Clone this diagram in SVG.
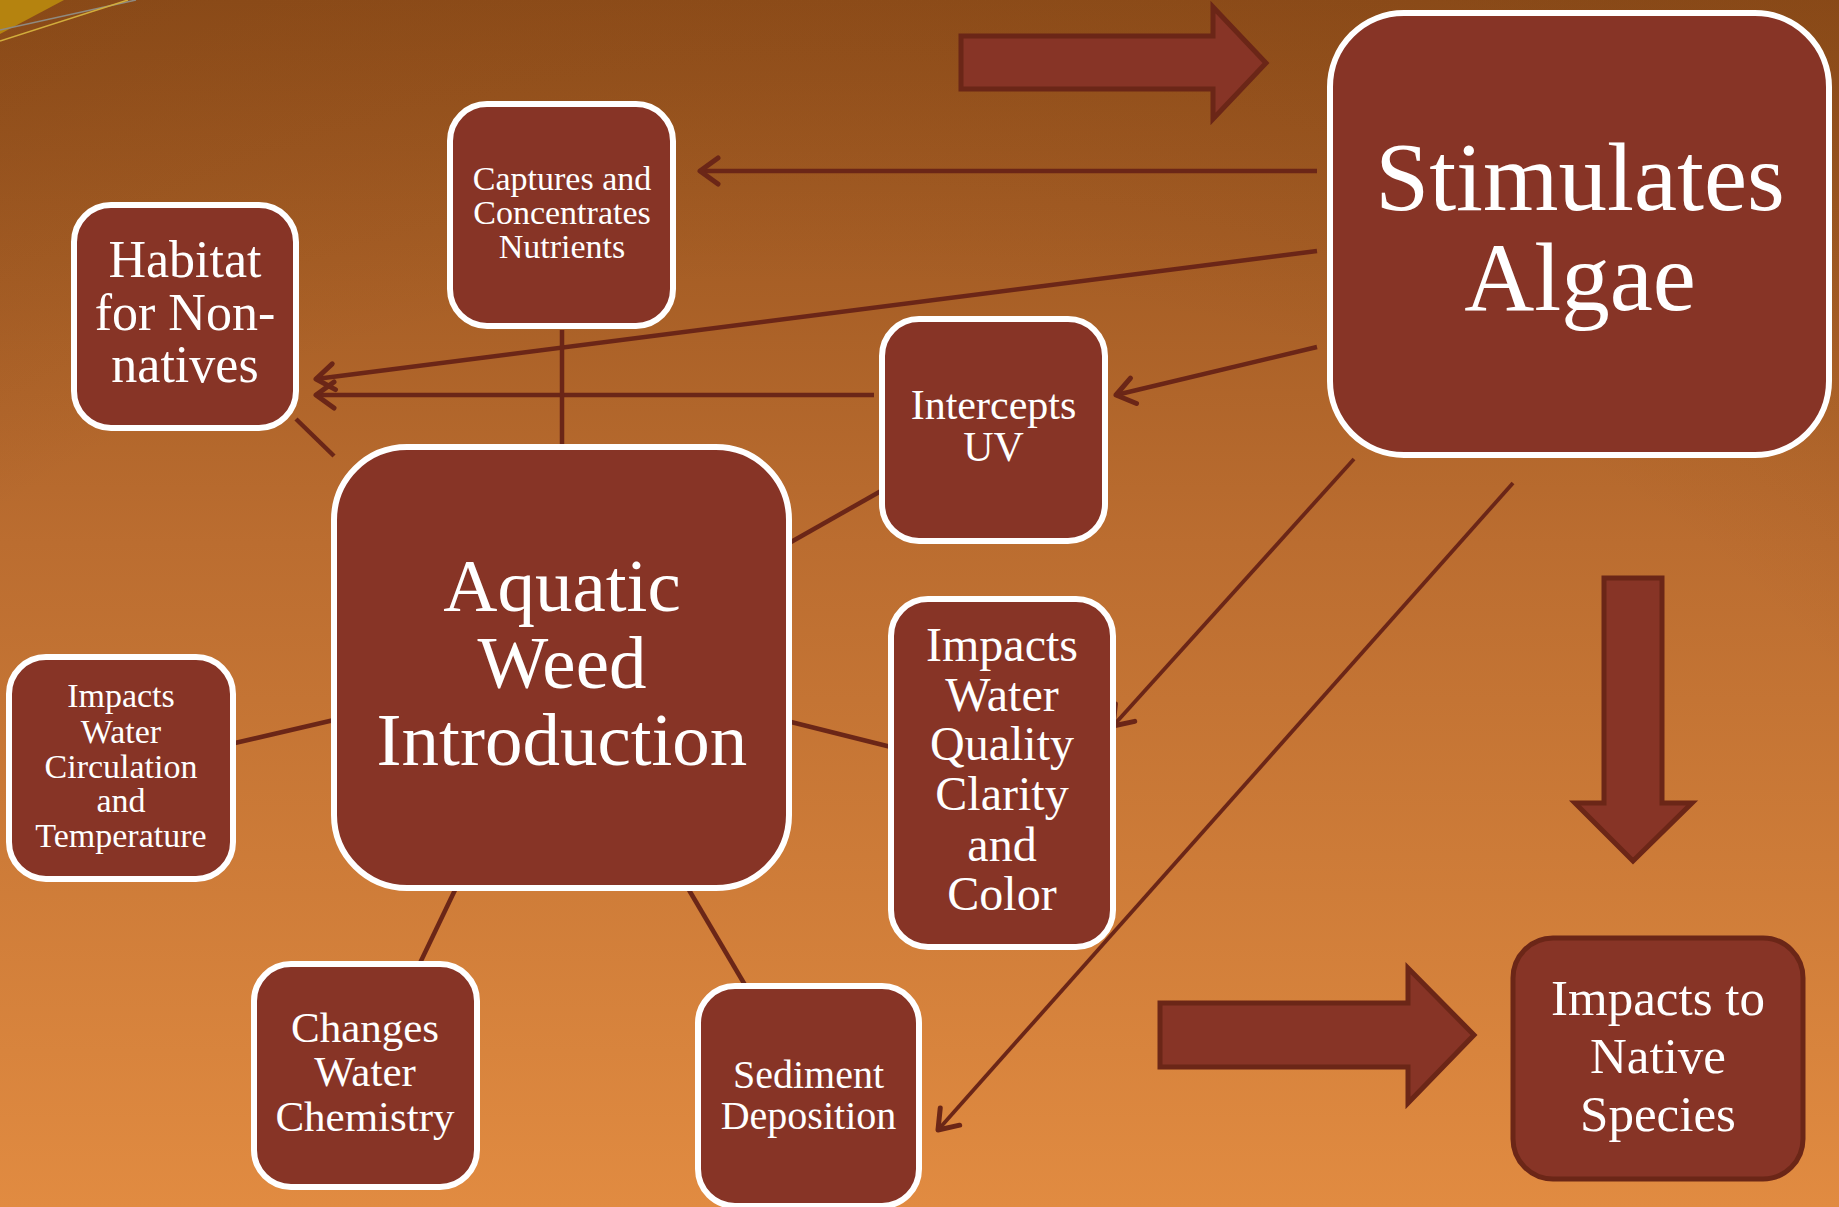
<svg xmlns="http://www.w3.org/2000/svg" width="1839" height="1207" viewBox="0 0 1839 1207">
  <defs>
    <linearGradient id="bg" x1="0" y1="0" x2="0" y2="1">
      <stop offset="0" stop-color="#93501b"/>
      <stop offset="0.45" stop-color="#bb6d30"/>
      <stop offset="1" stop-color="#e18b41"/>
    </linearGradient>
    <radialGradient id="vignette" cx="0.45" cy="0.85" r="0.95">
      <stop offset="0.65" stop-color="#5a2a08" stop-opacity="0"/>
      <stop offset="1" stop-color="#5a2a08" stop-opacity="0.18"/>
    </radialGradient>
    <marker id="head" markerUnits="userSpaceOnUse" markerWidth="40" markerHeight="40" refX="0" refY="0" orient="auto" overflow="visible">
      <path d="M-18,-13 L0,0 L-18,13" fill="none" stroke="#6b2617" stroke-width="5" stroke-linecap="round" stroke-linejoin="round"/>
    </marker>
    <style>
      .node rect { fill: #873426; stroke: #ffffff; stroke-width: 6; }
      .node text { fill: #ffffff; font-family: "Liberation Serif", "DejaVu Serif", serif; text-anchor: middle; }
      #native rect { stroke: #6b2617; stroke-width: 5; }
      .link { stroke: #6b2617; stroke-width: 4.5; fill: none; }
      .thin { stroke-width: 3.8; }
      .block { fill: #873426; stroke: #6b2617; stroke-width: 5; stroke-linejoin: miter; }
    </style>
  </defs>

  <!-- background -->
  <rect width="1839" height="1207" fill="url(#bg)"/>
  <rect width="1839" height="1207" fill="url(#vignette)"/>

  <!-- corner ornament -->
  <g id="ornament">
    <polygon points="0,0 64,0 0,34" fill="#b5830f"/>
    <line x1="0" y1="30" x2="136" y2="0" stroke="#8f8a80" stroke-width="1.5"/>
    <line x1="0" y1="41" x2="128" y2="0" stroke="#d2ad3c" stroke-width="1.5"/>
  </g>

  <!-- block arrows -->
  <g id="block-arrows">
    <polygon class="block" points="961,36 1213,36 1213,7 1266,63 1213,119 1213,89 961,89"/>
    <polygon class="block" points="1604,578 1662,578 1662,803 1692,803 1633,861 1575,803 1604,803"/>
    <polygon class="block" points="1160,1003 1408,1003 1408,968 1474,1035 1408,1103 1408,1067 1160,1067"/>
  </g>

  <!-- connectors -->
  <g id="connectors">
    <path class="link" d="M1317,171 L700,171" marker-end="url(#head)"/>
    <path class="link" d="M1317,251 L316,379" marker-end="url(#head)"/>
    <path class="link" d="M874,395 L316,395" marker-end="url(#head)"/>
    <path class="link" d="M1317,347 L1116,395" marker-end="url(#head)"/>
    <path class="link thin" d="M1354,459 L1113,726" marker-end="url(#head)"/>
    <path class="link thin" d="M1513,483 L938,1130" marker-end="url(#head)"/>
    <path class="link" d="M562,330 L562,447"/>
    <path class="link" d="M296,419 L334,456"/>
    <path class="link" d="M791,542 L881,491"/>
    <path class="link" d="M235,743 L334,720"/>
    <path class="link" d="M791,722 L891,747"/>
    <path class="link" d="M455,890 L420,963"/>
    <path class="link" d="M689,890 L745,985"/>
  </g>

  <!-- nodes -->
  <g id="captures" class="node">
    <rect x="450" y="104" width="223" height="222" rx="37"/>
    <text font-size="34"><tspan x="562" y="190">Captures and</tspan><tspan x="562" y="224">Concentrates</tspan><tspan x="562" y="258">Nutrients</tspan></text>
  </g>
  <g id="habitat" class="node">
    <rect x="74" y="205" width="222" height="223" rx="37"/>
    <text font-size="52"><tspan x="185" y="277">Habitat</tspan><tspan x="185" y="330">for Non-</tspan><tspan x="185" y="382">natives</tspan></text>
  </g>
  <g id="algae" class="node">
    <rect x="1330" y="13" width="499" height="442" rx="74"/>
    <text font-size="97"><tspan x="1580" y="210">Stimulates</tspan><tspan x="1580" y="310">Algae</tspan></text>
  </g>
  <g id="uv" class="node">
    <rect x="882" y="319" width="223" height="222" rx="37"/>
    <text font-size="42"><tspan x="993.5" y="419">Intercepts</tspan><tspan x="993.5" y="461">UV</tspan></text>
  </g>
  <g id="weed" class="node">
    <rect x="334" y="447" width="455" height="441" rx="73"/>
    <text font-size="75"><tspan x="562" y="611">Aquatic</tspan><tspan x="562" y="688">Weed</tspan><tspan x="562" y="765">Introduction</tspan></text>
  </g>
  <g id="circulation" class="node">
    <rect x="9" y="657" width="224" height="222" rx="37"/>
    <text font-size="34"><tspan x="121" y="707">Impacts</tspan><tspan x="121" y="743">Water</tspan><tspan x="121" y="778">Circulation</tspan><tspan x="121" y="812">and</tspan><tspan x="121" y="847">Temperature</tspan></text>
  </g>
  <g id="quality" class="node">
    <rect x="891" y="599" width="222" height="348" rx="37"/>
    <text font-size="48"><tspan x="1002" y="661">Impacts</tspan><tspan x="1002" y="711">Water</tspan><tspan x="1002" y="760">Quality</tspan><tspan x="1002" y="810">Clarity</tspan><tspan x="1002" y="861">and</tspan><tspan x="1002" y="910">Color</tspan></text>
  </g>
  <g id="chemistry" class="node">
    <rect x="254" y="964" width="223" height="223" rx="37"/>
    <text font-size="43"><tspan x="365" y="1042">Changes</tspan><tspan x="365" y="1086">Water</tspan><tspan x="365" y="1131">Chemistry</tspan></text>
  </g>
  <g id="sediment" class="node">
    <rect x="698" y="986" width="221" height="220" rx="37"/>
    <text font-size="40"><tspan x="808.5" y="1088">Sediment</tspan><tspan x="808.5" y="1129">Deposition</tspan></text>
  </g>
  <g id="native" class="node">
    <rect x="1513" y="938" width="290" height="241" rx="40"/>
    <text font-size="51"><tspan x="1658" y="1015">Impacts to</tspan><tspan x="1658" y="1073">Native</tspan><tspan x="1658" y="1131">Species</tspan></text>
  </g>
</svg>
